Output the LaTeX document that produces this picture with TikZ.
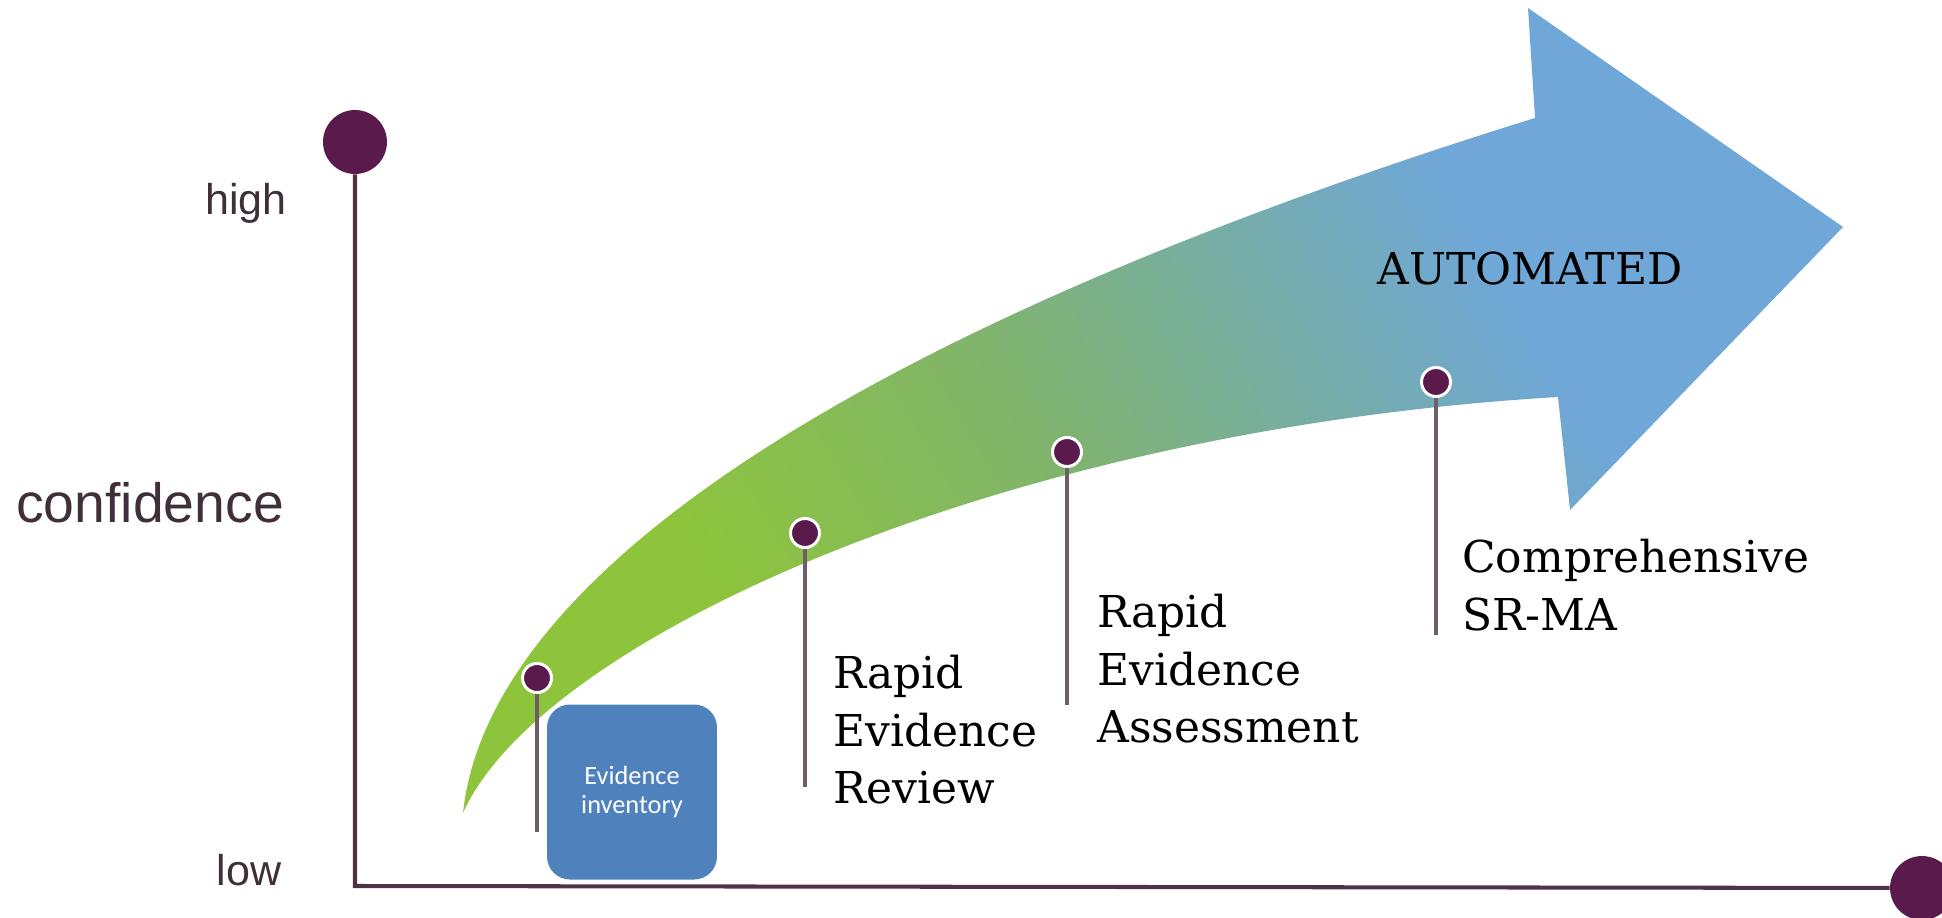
\documentclass[tikz,border=0pt]{standalone}
\usepackage{fontspec}
\setmainfont{DejaVu Serif}
\setsansfont{Liberation Sans}
\newfontfamily\calibri{Carlito}
\usetikzlibrary{positioning}

\definecolor{plum}{HTML}{5A1A4C}
\definecolor{axisplum}{HTML}{4E3347}
\definecolor{stemgray}{HTML}{6E5E6A}
\definecolor{labelgray}{HTML}{3F2F3B}
\definecolor{arrowgreen}{HTML}{8DC43C}
\definecolor{arrowolive}{HTML}{80B46C}
\definecolor{arrowteal}{HTML}{78AEA0}
\definecolor{arrowblue}{HTML}{6FA7D8}
\definecolor{boxblue}{HTML}{4F81BD}

\pgfdeclarehorizontalshading{confshade}{100bp}{color(0bp)=(arrowgreen); color(30bp)=(arrowgreen); color(45bp)=(arrowolive); color(55bp)=(arrowteal); color(66bp)=(arrowblue); color(100bp)=(arrowblue)}

\tikzset{
  axis/.style={axisplum, line width=2.3pt},
  axisdot/.style={circle, fill=plum, inner sep=0pt, minimum size=36.4pt},
  pin/.style={circle, fill=plum, draw=white, line width=1.7pt, inner sep=0pt, minimum size=16.5pt},
  stem/.style={stemgray, line width=2pt},
  axislabel/.style={text=labelgray, font=\sffamily\fontsize{24.5}{29}\selectfont, inner sep=0pt},
  stage/.style={anchor=north west, align=left, inner sep=0pt, font=\fontsize{25}{32.7}\selectfont},
  invbox/.style={fill=boxblue, rounded corners=13pt, minimum width=96.7pt, minimum height=99.6pt,
    text=white, align=center, font=\calibri\fontsize{15}{16.5}\selectfont}
}

\begin{document}
\begin{tikzpicture}[x=0.02cm, y=-0.02cm]
    \useasboundingbox (0,0) rectangle (1942,918);
    \pgfmathsetmacro{\AxisX}{355}
    \pgfmathsetmacro{\AxisY}{886}

    % the curved arrow
    \coordinate (tail) at (463,813);
    \coordinate (shoulder) at (1535,118);
    \coordinate (headtop) at (1528,8);
    \coordinate (tip) at (1843,227);
    \coordinate (headbot) at (1570,510);
    \coordinate (notch) at (1558,397);
    \path[shading=confshade, shading angle=30] (tail) .. controls (490,560) and (900,315) .. (shoulder)
        -- (headtop) -- (tip) -- (headbot) -- (notch)
        .. controls (1000,430) and (540,640) .. (tail) -- cycle;% Arrow

    % axes
    \node[axisdot] (top) at (\AxisX,142) {};
    \node[axisdot] (right) at (1922,888) {};
    \coordinate (origin) at (\AxisX,\AxisY);
    \draw[axis] (top) -- (origin) -- (right);

    \node[axislabel, anchor=base] (high) at (246,215) {high};
    \node[axislabel, anchor=base, font=\sffamily\fontsize{31.5}{36}\selectfont] (conf) at (150,522) {confidence};
    \node[axislabel, anchor=base] (low) at (249,885) {low};

    % milestones
    \foreach \n/\x/\y/\e in {1/537/678/832, 2/805/533/787, 3/1067/452/705, 4/1436/382/635}{
        \node[pin] (p\n) at (\x,\y) {};
        \coordinate (s\n) at (\x,\e);
        \draw[stem] (p\n) -- (s\n);
    }

    \node[invbox] (inv) at (632,792) {Evidence\\inventory};
    \node[stage] (rer) at (833,655) {Rapid\\Evidence\\Review};
    \node[stage] (rea) at (1097,594) {Rapid\\Evidence\\Assessment};
    \node[stage] (srma) at (1462,539) {Comprehensive\\SR-MA};
    \node[stage, anchor=base west] (auto) at (1377,285) {AUTOMATED};
\end{tikzpicture}
\end{document}
